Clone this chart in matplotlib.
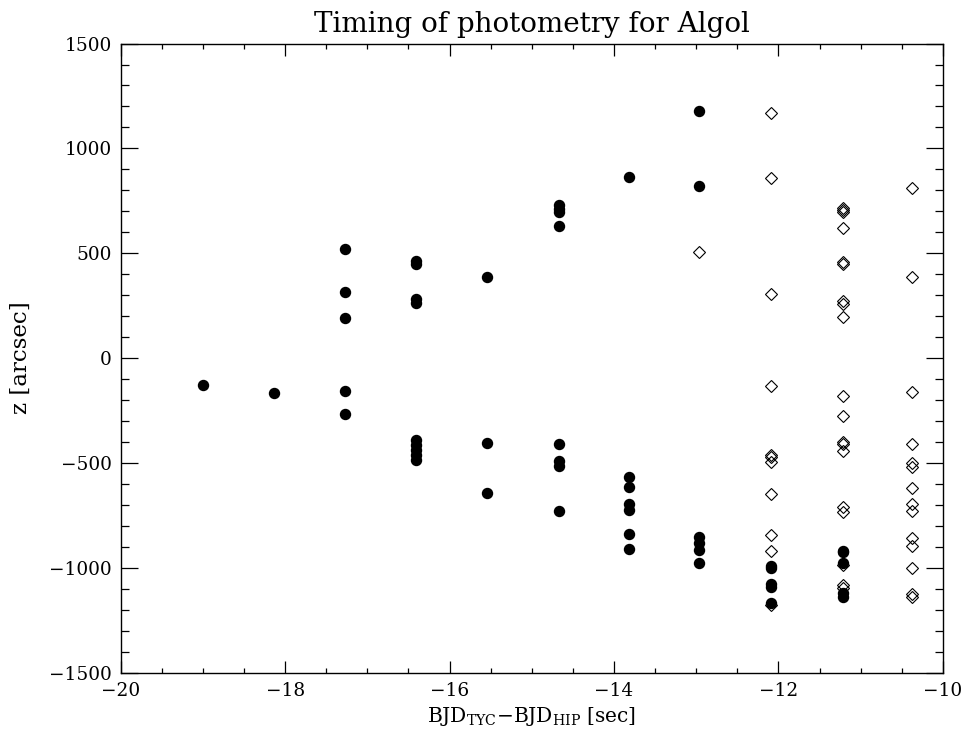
import numpy as np
import matplotlib
matplotlib.use('Agg')
import matplotlib.pyplot as plt
from matplotlib.ticker import MultipleLocator

plt.rcParams['font.family'] = ['DejaVu Serif']
plt.rcParams['mathtext.fontset'] = 'dejavuserif'

# filled circles (timing offset, z)
hip_x = [-19.00, -18.14,
         -17.27, -17.27, -17.27, -17.27, -17.27,
         -16.41, -16.41, -16.41, -16.41, -16.41, -16.41, -16.41, -16.41, -16.41,
         -15.54, -15.54, -15.54,
         -14.67, -14.67, -14.67, -14.67, -14.67, -14.67, -14.67, -14.67,
         -13.82, -13.82, -13.82, -13.82, -13.82, -13.82, -13.82,
         -12.97, -12.97, -12.97, -12.97, -12.97, -12.97,
         -12.09, -12.09, -12.09, -12.09, -12.09,
         -11.22, -11.22, -11.22, -11.22, -11.22]
hip_z = [-127, -164,
         520, 313, 191, -155, -266,
         465, 450, 280, 265, -392, -415, -440, -462, -485,
         389, -407, -644,
         730, 712, 695, 628, -409, -490, -513, -727,
         866, -565, -614, -696, -724, -841, -911,
         1179, 820, -852, -881, -914, -975,
         -990, -1000, -1076, -1090, -1169,
         -919, -925, -978, -1122, -1138]

# open diamonds
tyc_x = [-12.97,
         -12.09, -12.09, -12.09, -12.09, -12.09, -12.09, -12.09, -12.09, -12.09, -12.09, -12.09,
         -11.22, -11.22, -11.22, -11.22, -11.22, -11.22, -11.22, -11.22, -11.22, -11.22,
         -11.22, -11.22, -11.22, -11.22, -11.22, -11.22, -11.22, -11.22, -11.22,
         -10.37, -10.37, -10.37, -10.37, -10.37, -10.37, -10.37, -10.37, -10.37, -10.37,
         -10.37, -10.37, -10.37, -10.37]
tyc_z = [508,
         1171, 860, 307, -135, -461, -470, -493, -649, -843, -918, -1175,
         715, 704, 696, 620, 460, 450, 270, 259, 194, -180,
         -274, -401, -408, -442, -712, -733, -986, -1082, -1094,
         811, 389, -162, -410, -501, -517, -620, -696, -728, -858,
         -895, -1001, -1125, -1137]

fig = plt.figure(figsize=(9.65, 7.38), dpi=100)
ax = fig.add_axes([0.1251, 0.0885, 0.852, 0.8525])

ax.plot(hip_x, hip_z, 'o', color='black', markersize=7.2, linestyle='none')
ax.plot(tyc_x, tyc_z, 'D', markerfacecolor='none', markeredgecolor='black',
        markeredgewidth=0.8, markersize=6, linestyle='none')

ax.set_xlim(-20, -10)
ax.set_ylim(-1500, 1500)
ax.xaxis.set_major_locator(MultipleLocator(2))
ax.xaxis.set_minor_locator(MultipleLocator(0.5))
ax.yaxis.set_major_locator(MultipleLocator(500))
ax.yaxis.set_minor_locator(MultipleLocator(100))
ax.tick_params(axis='both', which='both', direction='in', top=True, right=True,
               labelsize=13.3, width=0.9, pad=6.5)
ax.tick_params(axis='x', which='major', length=8.6)
ax.tick_params(axis='x', which='minor', length=3.8)
ax.tick_params(axis='y', which='major', length=12)
ax.tick_params(axis='y', which='minor', length=5.5)
for s in ax.spines.values():
    s.set_linewidth(1.0)

ax.set_title('Timing of photometry for Algol', fontsize=20, pad=8)
ax.set_xlabel(r'BJD$_{\rm TYC}$$-$BJD$_{\rm HIP}$ [sec]', fontsize=14.5, labelpad=4)
ax.set_ylabel('z [arcsec]', fontsize=16.5, labelpad=12)

fig.savefig('out.png', dpi=100)
